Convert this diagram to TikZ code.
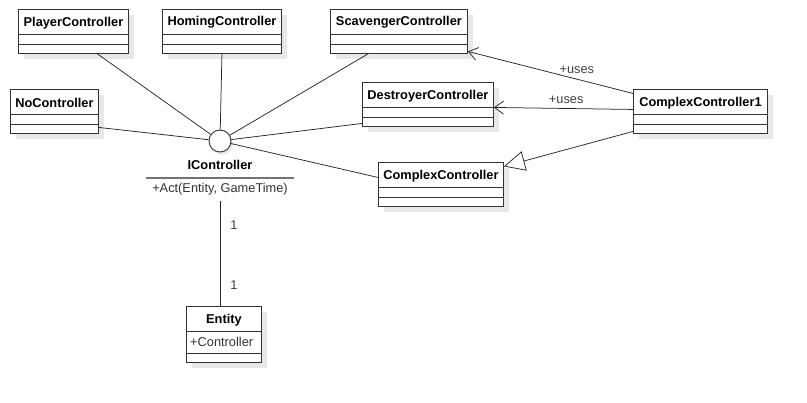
\documentclass[tikz,border=0pt]{standalone}
\usepackage{fontspec}
\setmainfont{Liberation Sans}
\usetikzlibrary{arrows.meta,shadows}

\begin{document}
\begin{tikzpicture}[
  x=1pt, y=-1pt,
  font=\fontsize{12.8}{15}\selectfont,
  cls/.style={draw=black!80, line width=0.9pt, fill=white, anchor=north west,
    minimum height=44pt, inner sep=0pt,
    drop shadow={shadow xshift=6pt, shadow yshift=-6pt, fill=black!9, opacity=1}},
  clsname/.style={anchor=north, minimum height=25pt, inner sep=0pt, yshift=-1pt,
    font=\fontsize{12.8}{15}\selectfont\bfseries, text=black},
  sep/.style={draw=black!80, line width=0.9pt},
  conn/.style={draw=black!85, line width=0.75pt},
  uses/.style={conn, -{Straight Barb[length=9pt,width=13pt]}},
  gen/.style={conn, -{Triangle[open, length=21pt, width=20pt, fill=white]}},
  lbl/.style={text=black!75, inner sep=2pt},
]

\useasboundingbox (0,0) rectangle (807,403);

% classes
\node [cls, minimum width=110pt] (player) at (18,9) {};
\node [clsname] (playerN) at (player.north) {PlayerController};
\draw [sep] ([yshift=-25pt]player.north west) -- ([yshift=-25pt]player.north east);
\draw [sep] ([yshift=-35pt]player.north west) -- ([yshift=-35pt]player.north east);

\node [cls, minimum width=119pt] (homing) at (162,9) {};
\node [clsname] (homingN) at (homing.north) {HomingController};
\draw [sep] ([yshift=-25pt]homing.north west) -- ([yshift=-25pt]homing.north east);
\draw [sep] ([yshift=-35pt]homing.north west) -- ([yshift=-35pt]homing.north east);

\node [cls, minimum width=137pt] (scav) at (330,9) {};
\node [clsname] (scavN) at (scav.north) {ScavengerController};
\draw [sep] ([yshift=-25pt]scav.north west) -- ([yshift=-25pt]scav.north east);
\draw [sep] ([yshift=-35pt]scav.north west) -- ([yshift=-35pt]scav.north east);

\node [cls, minimum width=88pt] (noctrl) at (10,89) {};
\node [clsname] (noctrlN) at (noctrl.north) {NoController};
\draw [sep] ([yshift=-25pt]noctrl.north west) -- ([yshift=-25pt]noctrl.north east);
\draw [sep] ([yshift=-35pt]noctrl.north west) -- ([yshift=-35pt]noctrl.north east);

\node [cls, minimum width=131pt] (dest) at (362,82) {};
\node [clsname] (destN) at (dest.north) {DestroyerController};
\draw [sep] ([yshift=-25pt]dest.north west) -- ([yshift=-25pt]dest.north east);
\draw [sep] ([yshift=-35pt]dest.north west) -- ([yshift=-35pt]dest.north east);

\node [cls, minimum width=134pt] (cc1) at (633,89) {};
\node [clsname] (cc1N) at (cc1.north) {ComplexController1};
\draw [sep] ([yshift=-25pt]cc1.north west) -- ([yshift=-25pt]cc1.north east);
\draw [sep] ([yshift=-35pt]cc1.north west) -- ([yshift=-35pt]cc1.north east);

\node [cls, minimum width=125pt] (cc) at (378,162) {};
\node [clsname] (ccN) at (cc.north) {ComplexController};
\draw [sep] ([yshift=-25pt]cc.north west) -- ([yshift=-25pt]cc.north east);
\draw [sep] ([yshift=-35pt]cc.north west) -- ([yshift=-35pt]cc.north east);

\node [cls, minimum width=75pt, minimum height=56pt] (entity) at (186,306) {};
\node [clsname] (entityN) at (entity.north) {Entity};
\draw [sep] ([yshift=-25pt]entity.north west) -- ([yshift=-25pt]entity.north east);
\draw [sep] ([yshift=-47pt]entity.north west) -- ([yshift=-47pt]entity.north east);
\node [anchor=west, inner sep=0pt, text=black!80] (entityA) at ([xshift=4pt,yshift=-36pt]entity.north west) {+Controller};

% interface
\node [circle, draw=black!80, line width=0.9pt, fill=white, minimum size=22pt,
  drop shadow={shadow xshift=2pt, shadow yshift=-3pt, fill=black!9, opacity=1}] (ictrl) at (220,141) {};
\node [font=\fontsize{12.8}{15}\selectfont\bfseries, text=black] (ictrlN) at (220,165) {IController};
\draw [black!55, line width=1.5pt] (146,178) -- (294,178);
\node [text=black!80] (ictrlM) at (220,189) {+Act(Entity, GameTime)};

% realisations
\draw [conn] ([xshift=24pt]player.south) -- (ictrl);
\draw [conn] (homing.south) -- (ictrl);
\draw [conn] ([xshift=-31pt]scav.south) -- (ictrl);
\draw [conn] ([yshift=-16pt]noctrl.east) -- (ictrl);
\draw [conn] ([yshift=-19pt]dest.west) -- (ictrl);
\draw [conn] ([yshift=7pt]cc.west) -- (ictrl);

% association
\draw [conn] ([yshift=-3pt]ictrlM.south) -- (ictrlM.south |- entity.north)
  node [lbl, pos=0.23, right=8pt] {1}
  node [lbl, pos=0.8, right=8pt] {1};

% uses / generalisation
\draw [uses] ([yshift=18pt]cc1.west) -- node [lbl, pos=0.34, above=3pt] {+uses} ([yshift=-20pt]scav.east);
\draw [uses] ([yshift=2pt]cc1.west) -- node [lbl, pos=0.48, above=2pt] {+uses} ([yshift=-3pt]dest.east);
\draw [gen] ([yshift=-20pt]cc1.west) -- ([yshift=18pt]cc.east);

\end{tikzpicture}
\end{document}
